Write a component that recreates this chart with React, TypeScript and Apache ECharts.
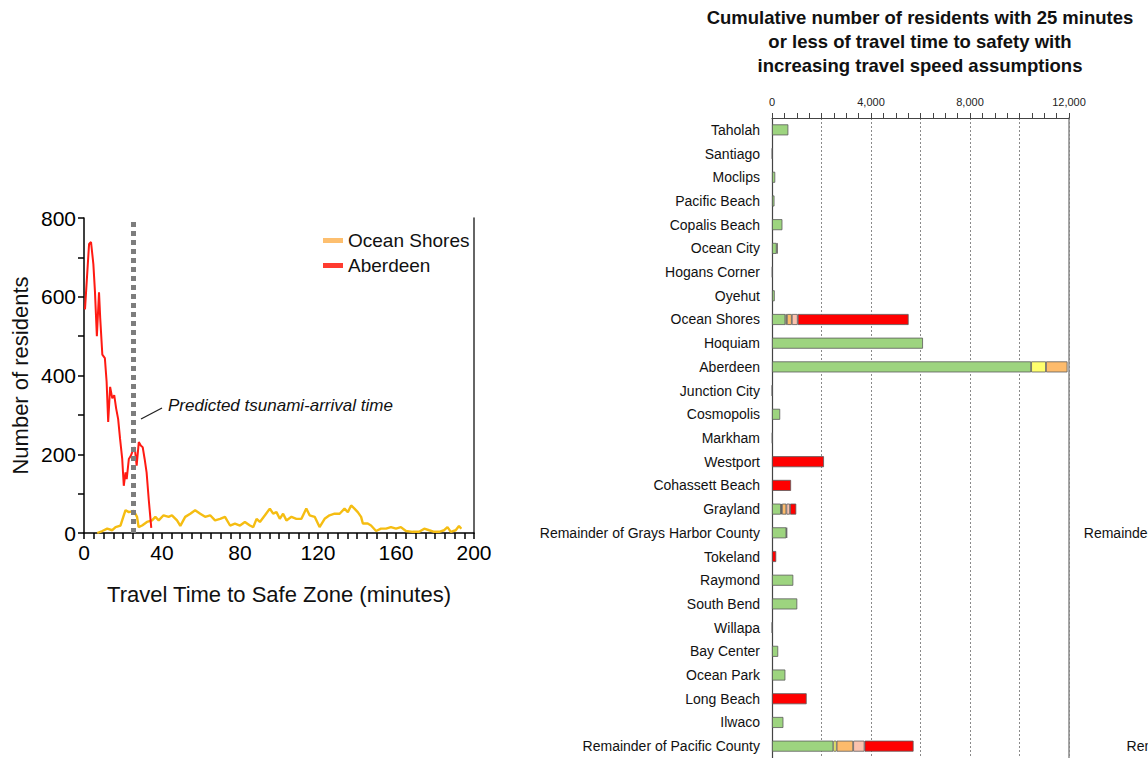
import React, { useEffect, useRef } from 'react';
import * as echarts from 'echarts';

// ---- Left chart: residents by travel time ----
const aberdeenMinutes = [0.5, 2.6, 3.6, 4.8, 5.6, 6.6, 7.7, 8.3, 9.4, 10.7, 11.6, 12.4, 13.4, 14.5, 15.5, 16.5, 17.5, 18.5, 19.6, 20.4, 21.3, 21.9, 23, 24, 24.7, 26, 27, 28.1, 29.1, 30.1, 31.1, 32.1, 33.2, 34.5];
const aberdeenResidents = [568, 734, 739, 683, 615, 500, 611, 547, 453, 444, 384, 282, 371, 342, 350, 316, 290, 239, 188, 120, 154, 137, 188, 196, 205, 218, 171, 231, 222, 218, 188, 154, 85, 13];

const oceanShoresMinutes = [6.8, 9.4, 11.9, 14.5, 16.2, 18.7, 20.4, 21.3, 23, 25.5, 27.2, 28, 29.8, 32.3, 34.9, 36.6, 38.3, 40.8, 43.4, 45.1, 47.7, 49.4, 51.9, 54.5, 57, 59.6, 62.1, 64.7, 67.2, 69.8, 72.3, 74.9, 77.4, 80, 82.5, 85.1, 86.8, 88.5, 90.2, 92.8, 95.3, 97, 98.7, 100.4, 102.1, 103.8, 106.4, 108.9, 111.5, 114, 115.7, 118.3, 120.8, 123.4, 125.9, 128.5, 131.1, 133.6, 135.3, 137, 138.7, 140.4, 142.1, 143, 145.5, 147.2, 149.8, 152.3, 154.9, 157.4, 160, 162.5, 165.1, 168.5, 171.9, 174.5, 177, 179.6, 182.1, 184.7, 186.4, 188.1, 190.6, 192.3, 193.5];
const oceanShoresResidents = [0, 5, 11, 7, 15, 19, 45, 58, 53, 56, 41, 15, 19, 28, 32, 41, 32, 45, 41, 45, 32, 18, 41, 49, 58, 49, 41, 45, 32, 36, 41, 19, 24, 19, 28, 19, 15, 36, 28, 45, 62, 49, 53, 36, 49, 32, 41, 36, 36, 62, 45, 41, 15, 36, 45, 49, 49, 62, 53, 70, 62, 53, 41, 24, 24, 19, 5, 11, 11, 15, 11, 15, 5, 3, 3, 11, 7, 3, 3, 7, 15, 3, 7, 18, 11];

const arrivalMinutes = 25;
const leftXTicks = [0, 40, 80, 120, 160, 200];
const leftYTicks = [0, 200, 400, 600, 800];

// ---- Right chart: cumulative residents with 25 min or less ----
const places = ['Taholah', 'Santiago', 'Moclips', 'Pacific Beach', 'Copalis Beach', 'Ocean City', 'Hogans Corner', 'Oyehut', 'Ocean Shores', 'Hoquiam', 'Aberdeen', 'Junction City', 'Cosmopolis', 'Markham', 'Westport', 'Cohassett Beach', 'Grayland', 'Remainder of Grays Harbor County', 'Tokeland', 'Raymond', 'South Bend', 'Willapa', 'Bay Center', 'Ocean Park', 'Long Beach', 'Ilwaco', 'Remainder of Pacific County'];
const speed1 = [660, 15, 130, 100, 420, 190, 20, 110, 540, 6100, 10470, 10, 330, 20, 0, 0, 360, 580, 0, 860, 1020, 10, 250, 540, 0, 460, 2480];
const speed2 = [0, 0, 0, 0, 0, 40, 0, 0, 60, 0, 600, 0, 0, 0, 0, 0, 40, 30, 0, 0, 0, 0, 0, 0, 0, 0, 130];
const speed3 = [0, 0, 0, 0, 0, 0, 0, 0, 200, 0, 870, 0, 0, 0, 0, 0, 180, 0, 0, 0, 0, 0, 0, 0, 0, 0, 670];
const speed4 = [0, 0, 0, 0, 0, 0, 0, 0, 240, 0, 0, 0, 0, 0, 0, 0, 150, 0, 0, 0, 0, 0, 0, 0, 0, 0, 460];
const speed5 = [0, 0, 0, 0, 0, 0, 0, 0, 4480, 0, 0, 0, 0, 0, 2100, 770, 250, 0, 170, 0, 0, 0, 0, 0, 1400, 0, 1980];
const speedNames = ['Speed 1', 'Speed 2', 'Speed 3', 'Speed 4', 'Speed 5'];
const speedColors = ['#9DD47F', '#FFFF6E', '#FDBB6C', '#FBC2AE', '#FF0000'];
const rightXLabelTicks = [0, 4000, 8000, 12000];

const cutOffLabels = ['Remainder of Grays Harbor County', 'Remainder of Pacific County'];

const SANS = '"Liberation Sans", Arial, sans-serif';

function fmtThousands(v: number): string {
  return String(v).replace(/\B(?=(\d{3})+(?!\d))/g, ',');
}

export default function App() {
  const ref = useRef<HTMLDivElement>(null);
  useEffect(() => {
    if (!ref.current) return;
    const chart = echarts.init(ref.current, null, { renderer: 'svg' });
    const speedSeries = [speed1, speed2, speed3, speed4, speed5].map((arr, i) => ({
      type: 'bar',
      name: speedNames[i],
      stack: 'total',
      xAxisIndex: 1,
      yAxisIndex: 2,
      barWidth: 11,
      data: arr.map((v) => (v > 0 ? v : null)),
      itemStyle: { color: speedColors[i], borderColor: '#5a5a5a', borderWidth: 0.8 },
      silent: true,
    }));

    const option: any = {
      animation: false,
      backgroundColor: '#ffffff',
      textStyle: { fontFamily: SANS },
      legend: {
        orient: 'vertical',
        left: 318,
        top: 226,
        icon: 'rect',
        itemWidth: 20,
        itemHeight: 5,
        itemGap: 6,
        data: [
          { name: 'Ocean Shores', itemStyle: { color: '#FDBF6F' } },
          { name: 'Aberdeen', itemStyle: { color: '#FF3B2F' } },
        ],
        textStyle: { fontSize: 19, color: '#111', fontFamily: SANS },
      },
      grid: [
        { left: 84, top: 218, width: 390, height: 315 },
        { left: 772, top: 118, width: 297, height: 640 },
      ],
      xAxis: [
        {
          type: 'value',
          gridIndex: 0,
          min: 0,
          max: 200,
          interval: 5,
          axisLine: { onZero: false, lineStyle: { color: '#000', width: 1.5 } },
          axisTick: { length: 6, lineStyle: { color: '#000', width: 1.5 } },
          axisLabel: {
            formatter: (v: number) => (leftXTicks.includes(v) ? String(v) : ''),
            fontSize: 21,
            color: '#000',
            margin: 9,
            fontFamily: SANS,
          },
          splitLine: { show: false },
          name: 'Travel Time to Safe Zone (minutes)',
          nameLocation: 'middle',
          nameGap: 50,
          nameTextStyle: { fontSize: 22, color: '#111', fontFamily: SANS },
        },
        {
          type: 'value',
          gridIndex: 1,
          position: 'top',
          min: 0,
          max: 12000,
          interval: 2000,
          axisLine: { onZero: false, lineStyle: { color: '#444', width: 1.2 } },
          axisTick: { length: 5, lineStyle: { color: '#444', width: 1 } },
          minorTick: { show: true, splitNumber: 4, length: 5, lineStyle: { color: '#444', width: 1 } },
          axisLabel: {
            formatter: (v: number) => (rightXLabelTicks.includes(v) ? fmtThousands(v) : ''),
            fontSize: 11,
            color: '#222',
            margin: 11,
            fontFamily: SANS,
          },
          splitLine: { show: true, lineStyle: { color: '#8a8a8a', width: 1, type: [2, 2] } },
        },
      ],
      yAxis: [
        {
          type: 'value',
          gridIndex: 0,
          min: 0,
          max: 800,
          interval: 100,
          axisLine: { show: true, onZero: false, lineStyle: { color: '#000', width: 1.5 } },
          axisTick: { show: true, length: 6, lineStyle: { color: '#000', width: 1.5 } },
          axisLabel: {
            formatter: (v: number) => (leftYTicks.includes(v) ? String(v) : ''),
            fontSize: 21,
            color: '#000',
            margin: 8,
            fontFamily: SANS,
          },
          splitLine: { show: false },
          name: 'Number of residents',
          nameLocation: 'middle',
          nameGap: 53,
          nameTextStyle: { fontSize: 22, color: '#111', fontFamily: SANS },
        },
        {
          type: 'value',
          gridIndex: 0,
          position: 'right',
          min: 0,
          max: 800,
          axisLine: { show: true, onZero: false, lineStyle: { color: '#333', width: 1.5 } },
          axisTick: { show: false },
          axisLabel: { show: false },
          splitLine: { show: false },
        },
        {
          type: 'category',
          gridIndex: 1,
          data: places,
          inverse: true,
          axisLine: { onZero: false, lineStyle: { color: '#444', width: 1.2 } },
          axisTick: { length: 5, lineStyle: { color: '#444', width: 1 } },
          axisLabel: { fontSize: 14, color: '#111', margin: 12, fontFamily: SANS },
        },
        {
          type: 'value',
          gridIndex: 1,
          position: 'right',
          min: 0,
          max: 1,
          axisLine: { show: true, onZero: false, lineStyle: { color: '#8a8a8a', width: 1.5 } },
          axisTick: { show: false },
          axisLabel: { show: false },
          splitLine: { show: false },
        },
      ],
      series: [
        {
          type: 'line',
          name: 'Ocean Shores',
          xAxisIndex: 0,
          yAxisIndex: 0,
          data: oceanShoresMinutes.map((t, i) => [t, oceanShoresResidents[i]]),
          showSymbol: false,
          symbol: 'none',
          lineStyle: { color: '#F5BD12', width: 2.4 },
          itemStyle: { color: '#F5BD12' },
          z: 2,
        },
        {
          type: 'line',
          name: 'Aberdeen',
          xAxisIndex: 0,
          yAxisIndex: 0,
          data: aberdeenMinutes.map((t, i) => [t, aberdeenResidents[i]]),
          showSymbol: false,
          symbol: 'none',
          lineStyle: { color: '#FF1A12', width: 2 },
          itemStyle: { color: '#FF1A12' },
          z: 3,
          markLine: {
            silent: true,
            symbol: ['none', 'none'],
            label: { show: false },
            lineStyle: { color: '#7d7d7d', width: 5, type: [5, 4] },
            data: [{ xAxis: arrivalMinutes }],
          },
        },
        ...speedSeries,
      ],
      graphic: [
        {
          type: 'line',
          shape: { x1: 141, y1: 419, x2: 162, y2: 408 },
          style: { stroke: '#222', lineWidth: 1.3 },
          silent: true,
        },
        {
          type: 'text',
          x: 168,
          y: 405,
          style: {
            text: 'Predicted tsunami-arrival time',
            font: 'italic 17px "Liberation Sans", Arial, sans-serif',
            fill: '#111',
            textVerticalAlign: 'middle',
            verticalAlign: 'middle',
          },
          silent: true,
        },
        {
          type: 'text',
          x: 920,
          y: 5,
          style: {
            text: 'Cumulative number of residents with 25 minutes\nor less of travel time to safety with\nincreasing travel speed assumptions',
            font: 'bold 18.5px "Liberation Sans", Arial, sans-serif',
            lineHeight: 24,
            fill: '#111',
            align: 'center',
            textAlign: 'center',
          },
          silent: true,
        },
        {
          type: 'text',
          x: 1304,
          y: 533,
          style: {
            text: cutOffLabels[0],
            font: '14px "Liberation Sans", Arial, sans-serif',
            fill: '#111',
            align: 'right',
            textAlign: 'right',
            verticalAlign: 'middle',
            textVerticalAlign: 'middle',
          },
          silent: true,
        },
        {
          type: 'text',
          x: 1304,
          y: 746,
          style: {
            text: cutOffLabels[1],
            font: '14px "Liberation Sans", Arial, sans-serif',
            fill: '#111',
            align: 'right',
            textAlign: 'right',
            verticalAlign: 'middle',
            textVerticalAlign: 'middle',
          },
          silent: true,
        },
      ],
    };
    chart.setOption(option);
    return () => chart.dispose();
  }, []);
  return (
    <div
      ref={ref}
      style={{ position: 'absolute', left: 0, top: 0, width: 1148, height: 758, overflow: 'hidden' }}
    />
  );
}
